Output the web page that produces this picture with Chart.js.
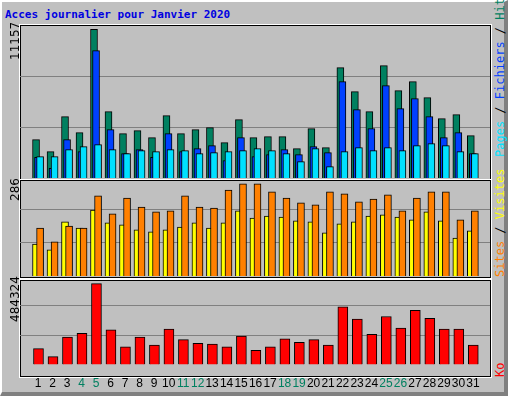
<!DOCTYPE html>
<html><head><meta charset="utf-8">
<script src="https://cdn.jsdelivr.net/npm/chart.js@4/dist/chart.umd.min.js"></script>
<style>
body{margin:0;background:#fff;width:512px;height:400px;position:relative;overflow:hidden;font-family:"DejaVu Sans Mono",monospace}
#frame{position:absolute;left:0;top:0;width:502px;height:390px;background:#c0c0c0;border-top:2px solid #fff;border-left:2px solid #fff;border-right:4px solid #808080;border-bottom:4px solid #808080;box-sizing:content-box}
.panel{position:absolute;left:20px;width:469px;border:1px solid #000;box-shadow:0 0 0 1px #fff}
canvas{position:absolute}
.t{position:absolute;font-size:11px;white-space:nowrap}
.vl{position:absolute;transform-origin:0 0;transform:rotate(-90deg);font-size:12px;font-family:"DejaVu Sans",sans-serif;white-space:nowrap}
.vr{position:absolute;transform-origin:0 0;transform:rotate(-90deg);font-size:12px;white-space:nowrap}
</style></head><body>
<div id="frame"></div>
<div class="t" style="left:5px;top:8px;color:#0000e0;font-weight:bold">Acces journalier pour Janvier 2020</div>
<div class="panel" style="top:25px;height:153px"></div>
<div class="panel" style="top:180px;height:96px"></div>
<div class="panel" style="top:280px;height:95px"></div>
<canvas id="c1" style="left:20px;top:26px;width:470px;height:152px"></canvas>
<canvas id="c2" style="left:20px;top:180px;width:470px;height:96px"></canvas>
<canvas id="c3" style="left:20px;top:280px;width:470px;height:115px"></canvas>
<div class="vl" style="left:8px;top:60px">11157</div>
<div class="vl" style="left:8px;top:201px">286</div>
<div class="vl" style="left:8px;top:322px">484324</div>
<div class="vr" style="left:493px;top:157px"><span style="color:#00e0ff">Pages</span> / <span style="color:#0040ff">Fichiers</span> / <span style="color:#008060">Hits</span></div>
<div class="vr" style="left:493px;top:277px"><span style="color:#ff8000">Sites</span> / <span style="color:#ffff00">Visites</span></div>
<div class="vr" style="left:493px;top:377px;color:#ff0000">Ko</div>
<script>
const days=[1,2,3,4,5,6,7,8,9,10,11,12,13,14,15,16,17,18,19,20,21,22,23,24,25,26,27,28,29,30,31];
const weekendDays=[4,5,11,12,18,19,25,26];
const hits=[2875,1975,4600,3400,11157,4975,3325,3550,3025,4675,3325,3625,3775,2650,4375,3025,3100,3100,2200,3700,2275,8275,6475,4975,8425,6550,7225,6025,4450,4750,3175];
const files=[1550,725,2875,1975,9550,3625,1825,2125,1550,3325,1975,2200,2425,1300,3025,1600,1750,2125,1750,2350,1900,7225,5125,3700,6925,5200,5950,4600,3025,3400,1825];
const pages=[1600,1600,2125,2350,2500,2125,1825,2050,1975,2125,2050,1825,1900,1975,2050,2200,2050,1825,1225,2200,850,1975,2275,2050,2275,2050,2425,2575,2425,1975,1825];
const sites=[99,81,168,149,205,165,159,143,137,143,152,165,149,165,202,180,186,183,171,168,134,162,168,186,190,183,174,199,171,118,140];
const visits=[149,106,155,149,249,193,242,214,199,202,249,214,211,267,286,286,261,242,227,221,261,255,230,239,252,202,242,261,261,174,202];
const kb=[95800,47900,165000,186300,484324,207600,106400,165000,117100,212900,149000,127700,122400,106400,170300,85200,106400,154300,133100,149000,117100,346000,271400,181000,287400,218200,324600,276700,212900,212900,117100];

const MINX=0.267,MAXX=31.65;
function ds(vals,off,color,w,ord){return{data:days.map((d,i)=>({x:d+off,y:vals[i]})),backgroundColor:color,borderColor:'#000',borderWidth:1,barThickness:w,grouped:false,order:ord,borderSkipped:'bottom'};}
function opts(max,step,showX){return{responsive:false,animation:false,devicePixelRatio:1,layout:{padding:0},
 plugins:{legend:{display:false},tooltip:{enabled:false}},
 scales:{x:{type:'linear',min:MINX,max:MAXX,display:showX,grid:{display:false},border:{display:false},
   afterBuildTicks:s=>{s.ticks=days.map(v=>({value:v}));},
   ticks:{autoSkip:false,maxRotation:0,padding:4,font:{family:'Liberation Sans',size:12},color:c=>weekendDays.includes(c.tick.value)?'#008060':'#000',callback:v=>String(v)}},
  y:{min:0,max:max,afterBuildTicks:s=>{s.ticks=[{value:step},{value:2*step}];},ticks:{display:false},grid:{color:'#808080',lineWidth:1,drawTicks:false},border:{display:false}}}};}
function mk(id,w,h,cfgds,max,step,showX){const c=document.getElementById(id);c.width=w;c.height=h;
 new Chart(c,{type:'bar',data:{datasets:cfgds},options:opts(max,step,showX)});}
mk('c1',470,152,[ds(hits,-0.15,'#008060',7,3),ds(files,-0.01,'#0040ff',7,2),ds(pages,0.13,'#00e0ff',7,1)],11400,3800,false);
mk('c2',470,96,[ds(sites,-0.15,'#ffff00',7,2),ds(visits,0.13,'#ff8000',7,1)],298,102.6,false);
mk('c3',470,115,[ds(kb,0.02,'#ff0000',10,1)],505600,175600,true);
</script></body></html>
